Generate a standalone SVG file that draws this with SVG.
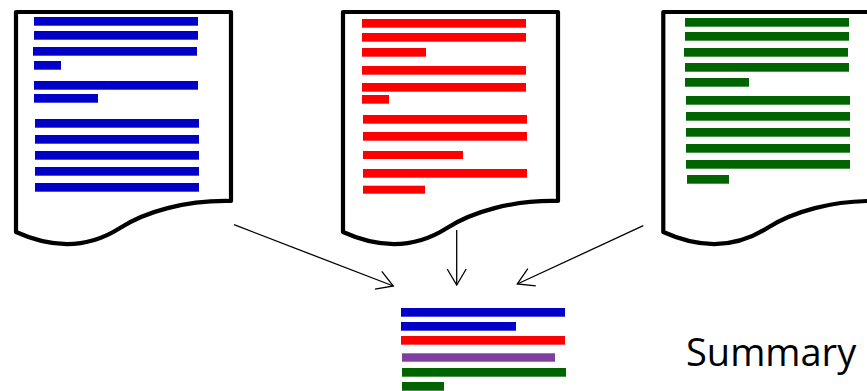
<svg xmlns="http://www.w3.org/2000/svg" width="867" height="391" viewBox="0 0 867 391">
<style>
.page{fill:#fff;stroke:#000;stroke-width:4.2;stroke-linejoin:round}
.b{fill:#0000c8}
.r{fill:#ff0000}
.g{fill:#006400}
.p{fill:#7f3f9f}
.conn{stroke:#000;stroke-width:1.3;fill:none}
.lbl{font-family:"Open Sans","Noto Sans",sans-serif;font-size:38px;fill:#000}
</style>
<defs>
<path id="pg" d="M0,0 H215 V189 C169,188 129,200 104,216 C79,232 44,240 0,220 Z"/>
<marker id="ah" markerUnits="userSpaceOnUse" markerWidth="24" markerHeight="24" viewBox="-20 -12 24 24" refX="0" refY="0" orient="auto">
<path d="M-16,-9.5 L0,0 L-16,9.5" fill="none" stroke="#000" stroke-width="1.3"/>
</marker>
</defs>
<g id="connectors">
<line class="conn" x1="234" y1="224.7" x2="393.3" y2="286" marker-end="url(#ah)"/>
<line class="conn" x1="456.7" y1="230" x2="456.7" y2="285" marker-end="url(#ah)"/>
<line class="conn" x1="643.3" y1="225.7" x2="517.3" y2="284" marker-end="url(#ah)"/>
</g>
<g id="doc1">
<use href="#pg" class="page" x="16" y="12"/>
<rect class="b" x="34" y="17" width="164" height="8.7"/>
<rect class="b" x="34" y="31" width="164" height="8.7"/>
<rect class="b" x="33" y="47" width="164" height="8.7"/>
<rect class="b" x="34" y="61" width="27" height="8.7"/>
<rect class="b" x="34" y="81" width="164" height="8.7"/>
<rect class="b" x="34" y="94" width="64" height="8.7"/>
<rect class="b" x="35" y="119" width="164" height="8.7"/>
<rect class="b" x="35" y="135" width="164" height="8.7"/>
<rect class="b" x="35" y="151" width="164" height="8.7"/>
<rect class="b" x="35" y="167" width="164" height="8.7"/>
<rect class="b" x="35" y="183" width="164" height="8.7"/>
</g>
<g id="doc2">
<use href="#pg" class="page" x="343" y="12"/>
<rect class="r" x="362" y="19" width="164" height="8.7"/>
<rect class="r" x="362" y="33" width="164" height="8.7"/>
<rect class="r" x="362" y="48" width="64" height="8.7"/>
<rect class="r" x="362" y="66" width="164" height="8.7"/>
<rect class="r" x="362" y="83" width="164" height="8.7"/>
<rect class="r" x="362" y="95" width="27" height="8.7"/>
<rect class="r" x="363" y="115" width="164" height="8.7"/>
<rect class="r" x="363" y="132" width="164" height="8.7"/>
<rect class="r" x="363" y="151" width="100" height="8"/>
<rect class="r" x="363" y="169" width="164" height="8.7"/>
<rect class="r" x="363" y="185.7" width="62" height="8"/>
</g>
<g id="doc3">
<use href="#pg" class="page" x="663.3" y="12"/>
<rect class="g" x="685" y="18" width="164" height="8.7"/>
<rect class="g" x="685" y="32" width="164" height="8.7"/>
<rect class="g" x="684" y="48" width="164" height="8.7"/>
<rect class="g" x="685" y="63" width="164" height="8.7"/>
<rect class="g" x="685" y="78" width="64" height="8.7"/>
<rect class="g" x="686" y="96" width="164" height="8.7"/>
<rect class="g" x="686" y="112" width="164" height="8.7"/>
<rect class="g" x="686" y="128" width="164" height="8.7"/>
<rect class="g" x="686" y="144" width="164" height="8.7"/>
<rect class="g" x="686" y="160" width="164" height="8.7"/>
<rect class="g" x="687" y="175" width="42" height="8.7"/>
</g>
<g id="summary">
<rect class="b" x="401" y="308" width="164" height="8.7"/>
<rect class="b" x="401" y="322" width="115" height="8.7"/>
<rect class="r" x="401" y="336" width="164" height="8.7"/>
<rect class="p" x="402" y="353.3" width="153" height="8.4"/>
<rect class="g" x="402" y="368" width="164" height="8.7"/>
<rect class="g" x="402" y="382" width="42" height="8.7"/>
<text class="lbl" x="686" y="366">Summary</text>
</g>
</svg>
